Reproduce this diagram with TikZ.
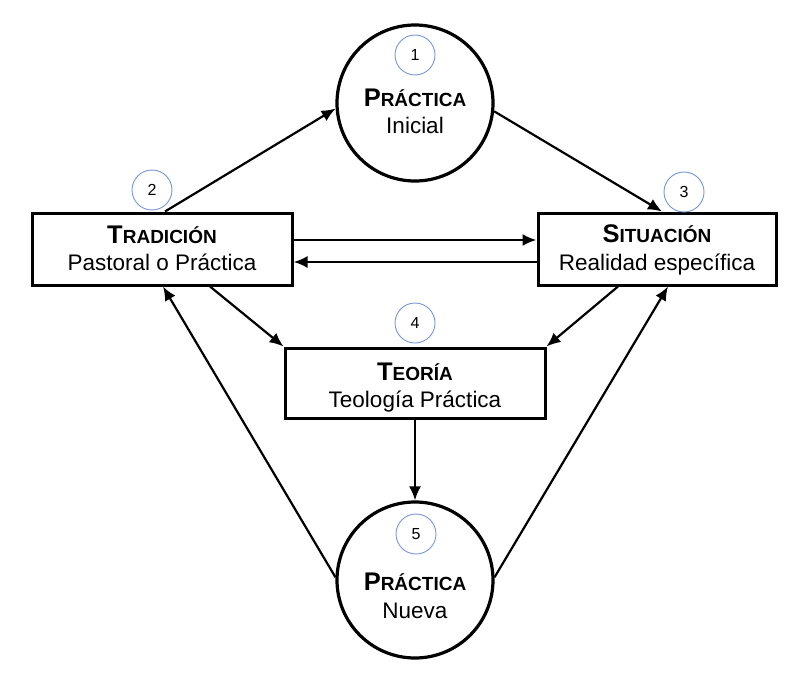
\documentclass[tikz,border=0pt]{standalone}
\usepackage{fontspec}
\setmainfont{Liberation Sans}
\usetikzlibrary{arrows.meta}
\definecolor{numblue}{RGB}{120,150,210}
% bold title with a large first letter and smaller capitals after it
\newcommand\capword[2]{\textbf{{\fontsize{25.5}{25.5}\selectfont #1}{\fontsize{19}{19}\selectfont #2}}}
\tikzset{
  stagebox/.style={draw, line width=3pt, rectangle, inner sep=0pt},
  stagecirc/.style={draw, line width=3.2pt, circle, inner sep=0pt, minimum size=156pt},
  numcirc/.style={draw=numblue, line width=0.9pt, circle, inner sep=0pt, minimum size=40pt,
    font=\fontsize{16}{16}\selectfont},
  title/.style={anchor=base, inner sep=0pt},
  subtitle/.style={anchor=base, inner sep=0pt, font=\fontsize{22.5}{22.5}\selectfont},
  flow/.style={line width=2.2pt, -{Latex[length=14pt,width=12pt]}},
}
\begin{document}
\begin{tikzpicture}[x=1pt,y=-1pt]
\useasboundingbox[fill=white] (0,0) rectangle (798,680);

% stages
\node[stagecirc] (p1) at (415,103) {};
\node[stagecirc] (p5) at (415,580) {};
\node[stagebox, minimum width=260pt, minimum height=72pt] (trad) at (162,249) {};
\node[stagebox, minimum width=238pt, minimum height=72pt] (sit) at (657,249) {};
\node[stagebox, minimum width=260pt, minimum height=70pt] (teo) at (415,383) {};

% stage texts
\node[title] (p1t) at (415,106) {\capword{P}{RÁCTICA}};
\node[subtitle] (p1s) at (415,133) {Inicial};
\node[title] (tradt) at (162,243) {\capword{T}{RADICIÓN}};
\node[subtitle] (trads) at (162,270) {Pastoral o Práctica};
\node[title] (sitt) at (657,242) {\capword{S}{ITUACIÓN}};
\node[subtitle] (sits) at (657,270) {Realidad específica};
\node[title] (teot) at (415,380) {\capword{T}{EORÍA}};
\node[subtitle] (teos) at (415,407) {Teología Práctica};
\node[title] (p5t) at (415,590) {\capword{P}{RÁCTICA}};
\node[subtitle] (p5s) at (415,618) {Nueva};

% step numbers
\node[numcirc] (n1) at (415,55) {1};
\node[numcirc] (n2) at (152,190) {2};
\node[numcirc] (n3) at (684,192) {3};
\node[numcirc] (n4) at (415,323) {4};
\node[numcirc] (n5) at (416,534) {5};

% connectors
\draw[flow] (trad.north -| 165,0) -- (p1.184);
\draw[flow] (p1.-6) -- (sit.north -| 662,0);
\draw[flow] (trad.east |- 0,240) -- (sit.west |- 0,240);
\draw[flow] (sit.west |- 0,262) -- (trad.east |- 0,262);
\draw[flow] (trad.south -| 210,0) -- (teo.north west);
\draw[flow] (sit.south -| 618,0) -- (teo.north east);
\draw[flow] (p5.178) -- (trad.south -| 163,0);
\draw[flow] (p5.2) -- (sit.south -| 668,0);
\draw[flow] (teo.south) -- (p5.north);
\end{tikzpicture}
\end{document}
